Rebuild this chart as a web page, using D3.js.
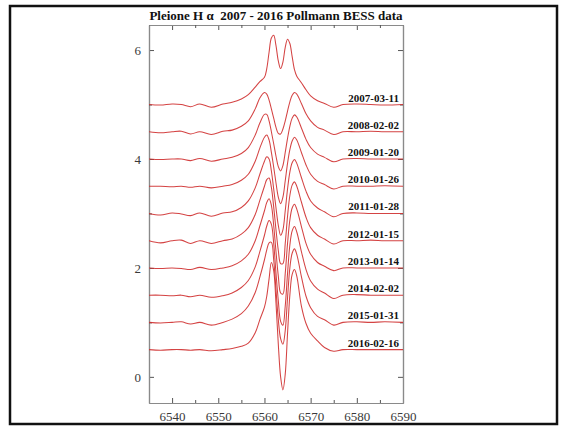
<!DOCTYPE html>
<html><head><meta charset="utf-8">
<script src="https://cdn.jsdelivr.net/npm/d3@7"></script>
<style>
html,body{margin:0;padding:0;background:#fff;}
svg{display:block;}
</style></head>
<body>
<svg id="chart" width="571" height="426"></svg>
<script>
const chartTitle = "Pleione H \u03b1  2007 - 2016 Pollmann BESS data";
const xTicks = [6540, 6550, 6560, 6570, 6580, 6590];
const xMinor = [6535, 6545, 6555, 6565, 6575, 6585];
const yTicks = [0, 2, 4, 6];
const yMinor = [1, 3, 5];
const dates = ["2007-03-11","2008-02-02","2009-01-20","2010-01-26","2011-01-28","2012-01-15","2013-01-14","2014-02-02","2015-01-31","2016-02-16"];
const offsets = [5.0, 4.5, 4.0, 3.5, 3.0, 2.5, 2.0, 1.5, 1.0, 0.5];
const wavelengths = [6535,6537.5,6540,6542,6544,6546,6548.5,6551,6553,6555,6556.5,6558,6559,6560,6560.5,6561,6561.5,6562,6562.5,6563,6563.5,6564,6564.5,6565,6565.5,6566,6566.5,6567,6568,6569,6570,6571.5,6573,6575,6577,6580,6583,6586,6590];
const s2007 = [0,-0.01,0.01,0,-0.04,0.01,-0.05,0.01,0.04,0.1,0.18,0.32,0.42,0.5,0.66,0.96,1.22,1.27,1.08,0.8,0.66,0.78,1.05,1.2,1.12,0.88,0.64,0.52,0.4,0.27,0.16,0.07,0.02,-0.05,0,0.01,0,-0.01,0];
const s2008 = [0,-0.02,0,0.01,-0.04,0,-0.05,0.01,0.03,0.1,0.2,0.42,0.62,0.72,0.69,0.58,0.42,0.25,0.08,-0.03,-0.04,0.05,0.2,0.38,0.55,0.67,0.72,0.69,0.52,0.33,0.2,0.08,0.03,-0.05,0,0,0.01,0,0];
const s2009 = [0,-0.01,0,0,-0.03,0.01,-0.04,0,0.03,0.1,0.21,0.44,0.66,0.82,0.82,0.7,0.5,0.28,0.05,-0.14,-0.22,-0.12,0.12,0.38,0.6,0.75,0.81,0.77,0.57,0.36,0.21,0.09,0.03,-0.05,0,0.01,0,0,0];
const s2010 = [0,0,-0.01,0,-0.02,0,-0.03,0,0.03,0.11,0.22,0.46,0.7,0.9,0.94,0.85,0.62,0.35,0.06,-0.2,-0.32,-0.2,0.1,0.42,0.67,0.83,0.9,0.85,0.62,0.39,0.22,0.09,0.03,-0.05,0,0,0,0.01,0];
const s2011 = [0,-0.03,0.01,-0.01,-0.04,0.01,-0.05,0.01,0.03,0.11,0.23,0.47,0.72,0.96,1.04,1.0,0.78,0.45,0.1,-0.22,-0.4,-0.3,0.05,0.45,0.76,0.93,0.99,0.92,0.66,0.41,0.23,0.1,0.03,-0.06,0,0.01,0,0,0];
const s2012 = [0,-0.04,0,0.01,-0.05,0,-0.05,0,0.03,0.12,0.24,0.48,0.74,1.0,1.12,1.15,0.98,0.62,0.2,-0.18,-0.42,-0.42,-0.05,0.45,0.83,1.02,1.08,1.0,0.71,0.43,0.24,0.1,0.03,-0.06,0,0,0.01,0,0];
const s2013 = [0,-0.01,0,-0.01,-0.03,0.01,-0.03,0,0.04,0.13,0.25,0.5,0.77,1.05,1.2,1.27,1.15,0.78,0.3,-0.15,-0.46,-0.48,-0.1,0.45,0.88,1.1,1.17,1.08,0.76,0.45,0.25,0.1,0.03,-0.05,0,0,0,0,0];
const s2014 = [0,0,-0.01,0,-0.03,0,-0.04,-0.01,0.04,0.14,0.27,0.52,0.8,1.1,1.27,1.37,1.3,0.95,0.4,-0.1,-0.48,-0.55,-0.2,0.4,0.92,1.18,1.26,1.16,0.8,0.47,0.26,0.11,0.04,-0.06,0,0.01,0,0,0];
const s2015 = [0,-0.01,0,0.01,-0.03,0,-0.05,0,0.06,0.16,0.3,0.55,0.83,1.15,1.33,1.46,1.47,1.15,0.6,0.05,-0.3,-0.4,-0.15,0.45,1.0,1.27,1.35,1.25,0.84,0.48,0.27,0.11,0.05,-0.05,0,0.01,0,0.01,0];
const s2016 = [0,-0.01,0,0,-0.01,0,-0.02,0,0.02,0.06,0.12,0.31,0.55,0.78,0.98,1.3,1.6,1.45,0.85,0.1,-0.5,-0.74,-0.45,0.3,1.0,1.38,1.47,1.35,0.8,0.48,0.3,0.16,0.04,-0.03,0,0,0,0,0];
const spectra = [s2007,s2008,s2009,s2010,s2011,s2012,s2013,s2014,s2015,s2016];

const svg = d3.select("#chart");
const W = 571, H = 426;
const L = 149, R = 403, T = 25, B = 403;
const x = d3.scaleLinear().domain([6535, 6590]).range([L, R]);
const y = d3.scaleLinear().domain([-0.48, 6.46]).range([B, T]);

svg.append("rect").attr("width", W).attr("height", H).attr("fill", "#fff");
// outer frame
svg.append("rect").attr("x", 10).attr("y", 6).attr("width", 547).attr("height", 418)
  .attr("fill", "none").attr("stroke", "#111").attr("stroke-width", 2.5);

svg.append("defs").append("clipPath").attr("id", "clip")
  .append("rect").attr("x", L).attr("y", T).attr("width", R - L).attr("height", B - T);

const axisColor = "#8a8a8a";
const fontSerif = "'Liberation Serif','DejaVu Serif',serif";

// bottom axis
const gB = svg.append("g").attr("transform", `translate(0,${B})`)
  .call(d3.axisBottom(x).tickValues(xTicks).tickSizeInner(-5).tickSizeOuter(0).tickPadding(9).tickFormat(d3.format("d")));
const gBm = svg.append("g").attr("transform", `translate(0,${B})`)
  .call(d3.axisBottom(x).tickValues(xMinor).tickSizeInner(-3).tickSizeOuter(0).tickFormat(""));
// top axis
const gT = svg.append("g").attr("transform", `translate(0,${T})`)
  .call(d3.axisTop(x).tickValues(xTicks).tickSizeInner(-5).tickSizeOuter(0).tickFormat(""));
const gTm = svg.append("g").attr("transform", `translate(0,${T})`)
  .call(d3.axisTop(x).tickValues(xMinor).tickSizeInner(-3).tickSizeOuter(0).tickFormat(""));
// left axis
const gL = svg.append("g").attr("transform", `translate(${L},0)`)
  .call(d3.axisLeft(y).tickValues(yTicks).tickSizeInner(-5).tickSizeOuter(0).tickPadding(8).tickFormat(d3.format("d")));
const gLm = svg.append("g").attr("transform", `translate(${L},0)`)
  .call(d3.axisLeft(y).tickValues(yMinor).tickSizeInner(-3).tickSizeOuter(0).tickFormat(""));
// right axis
const gR = svg.append("g").attr("transform", `translate(${R},0)`)
  .call(d3.axisRight(y).tickValues(yTicks).tickSizeInner(-5).tickSizeOuter(0).tickFormat(""));
const gRm = svg.append("g").attr("transform", `translate(${R},0)`)
  .call(d3.axisRight(y).tickValues(yMinor).tickSizeInner(-3).tickSizeOuter(0).tickFormat(""));

[gB,gBm,gT,gTm,gL,gLm,gR,gRm].forEach(g => {
  g.select(".domain").attr("stroke", axisColor).attr("stroke-width", 1.2);
  g.selectAll(".tick line").attr("stroke", "#555").attr("stroke-width", 1);
  g.selectAll("text").attr("font-family", fontSerif).attr("font-size", 13).attr("fill", "#3a3a3a");
});

// spectra
const line = d3.line()
  .x((d, i) => x(wavelengths[i]))
  .y(d => d)
  .curve(d3.curveCatmullRom.alpha(0.5));

const gS = svg.append("g").attr("clip-path", "url(#clip)");
spectra.forEach((s, k) => {
  const pts = s.map(v => y(offsets[k] + v));
  gS.append("path").attr("d", line(pts))
    .attr("fill", "none").attr("stroke", "#cf2f2f").attr("stroke-width", 1.05)
    .attr("stroke-linejoin", "round").attr("opacity", 0.9);
});

// date labels
svg.append("g").selectAll("text").data(dates).join("text")
  .attr("x", 399).attr("y", (d, i) => y(offsets[i]) - 3)
  .attr("text-anchor", "end")
  .attr("font-family", fontSerif).attr("font-weight", "bold").attr("font-size", 11)
  .attr("fill", "#111").text(d => d);

// title
svg.append("text").attr("x", (L + R) / 2).attr("y", 20)
  .attr("text-anchor", "middle").attr("font-family", fontSerif)
  .attr("font-weight", "bold").attr("font-size", 13).attr("fill", "#111")
  .attr("xml:space", "preserve").style("white-space", "pre")
  .text(chartTitle);
</script>
</body></html>
